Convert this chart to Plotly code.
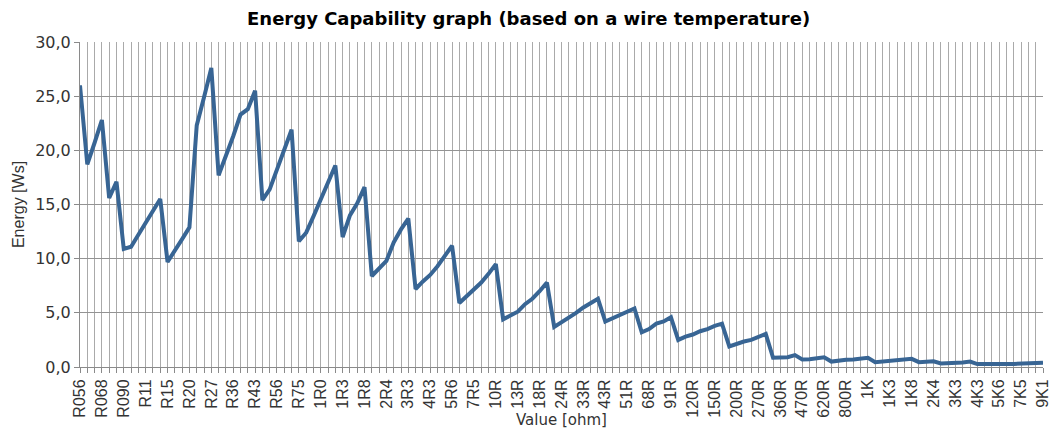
import plotly.graph_objects as go

# Tick labels shown on the category axis (every third resistor value)
tick_labels = ["R056", "R068", "R090", "R11", "R15", "R20", "R27", "R36", "R43", "R56",
               "R75", "1R0", "1R3", "1R8", "2R4", "3R3", "4R3", "5R6", "7R5", "10R",
               "13R", "18R", "24R", "33R", "43R", "51R", "68R", "91R", "120R", "150R",
               "200R", "270R", "360R", "470R", "620R", "800R", "1K", "1K3", "1K8", "2K4",
               "3K3", "4K3", "5K6", "7K5", "9K1"]
labels_every = 3

# Energy values [Ws] for each resistor value (category index 0..132)
energy = [26.0, 18.7, 20.7, 22.8, 15.6, 17.1, 10.9, 11.1, 12.2, 13.3,
          14.4, 15.5, 9.7, 10.7, 11.8, 12.9, 22.3, 24.9, 27.6, 17.7,
          19.4, 21.3, 23.3, 23.8, 25.5, 15.4, 16.4, 18.2, 20.0, 21.9,
          11.6, 12.4, 13.9, 15.4, 17.0, 18.6, 12.0, 14.0, 15.1, 16.6,
          8.4, 9.1, 9.8, 11.5, 12.7, 13.7, 7.2, 7.9, 8.5, 9.3,
          10.2, 11.2, 5.9, 6.5, 7.2, 7.8, 8.6, 9.5, 4.4, 4.7,
          5.1, 5.8, 6.3, 7.0, 7.8, 3.7, 4.1, 4.5, 5.0, 5.5,
          5.9, 6.3, 4.2, 4.5, 4.8, 5.1, 5.4, 3.2, 3.5, 4.0,
          4.2, 4.6, 2.5, 2.8, 3.0, 3.3, 3.5, 3.8, 4.0, 1.9,
          2.15, 2.35, 2.5, 2.75, 3.05, 0.85, 0.9, 0.9, 1.1, 0.7,
          0.72, 0.78, 0.9, 0.5, 0.6, 0.66, 0.7, 0.75, 0.85, 0.45,
          0.5, 0.6, 0.66, 0.7, 0.75, 0.45, 0.45, 0.52, 0.33, 0.33,
          0.38, 0.42, 0.5, 0.27, 0.27, 0.3, 0.3, 0.28, 0.28, 0.3,
          0.33, 0.36, 0.4]

x_index = list(range(len(energy)))
tick_positions = [i * labels_every for i in range(len(tick_labels))]

tick_font = dict(family="Liberation Sans", size=16, color="#333333")

fig = go.Figure()
fig.add_trace(go.Scatter(
    x=x_index, y=energy, mode="lines",
    line=dict(color="#386594", width=4),
    hoverinfo="y", showlegend=False, cliponaxis=True,
))

fig.update_layout(
    width=1053, height=431,
    margin=dict(l=80, r=10, t=42, b=64),
    paper_bgcolor="white", plot_bgcolor="white",
    separators=", ",
    title=dict(text="<b>Energy Capability graph (based on a wire temperature)</b>",
               x=0.502, xanchor="center", y=0.957, yanchor="middle",
               font=dict(family="DejaVu Sans", size=18, color="#000000")),
    annotations=[dict(text="Value [ohm]", xref="paper", yref="paper",
                      x=0.5, y=-0.162, xanchor="center", yanchor="middle",
                      showarrow=False,
                      font=dict(family="DejaVu Sans", size=15, color="#333333"))],
)

fig.update_xaxes(
    range=[0, len(energy) - 1],
    automargin=False,
    tickmode="array", tickvals=tick_positions, ticktext=tick_labels,
    tickangle=-90, ticklabeloverflow="allow",
    tickfont=tick_font,
    ticks="outside", ticklen=5, tickcolor="#8a8a8a",
    showgrid=True, gridcolor="#aaaaaa", gridwidth=1,
    minor=dict(dtick=1, tick0=0, showgrid=True, gridcolor="#aaaaaa", gridwidth=1,
               ticks="outside", ticklen=5, tickcolor="#8a8a8a"),
    showline=True, linecolor="#8a8a8a", linewidth=1,
    zeroline=False,
)

fig.update_yaxes(
    range=[0, 30], dtick=5, tick0=0, tickformat=".1f",
    automargin=False,
    tickfont=dict(family="DejaVu Sans", size=16, color="#333333"),
    ticks="outside", ticklen=5, tickcolor="#8a8a8a",
    showgrid=True, gridcolor="#939393", gridwidth=1,
    showline=True, linecolor="#8a8a8a", linewidth=1,
    zeroline=False,
    title=dict(text="Energy [Ws]", standoff=6,
               font=dict(family="Liberation Sans", size=16, color="#333333")),
)

fig.write_html("out.html",
               config={"displayModeBar": False},
               post_script="document.body.style.margin='0';document.body.style.overflow='hidden';")
